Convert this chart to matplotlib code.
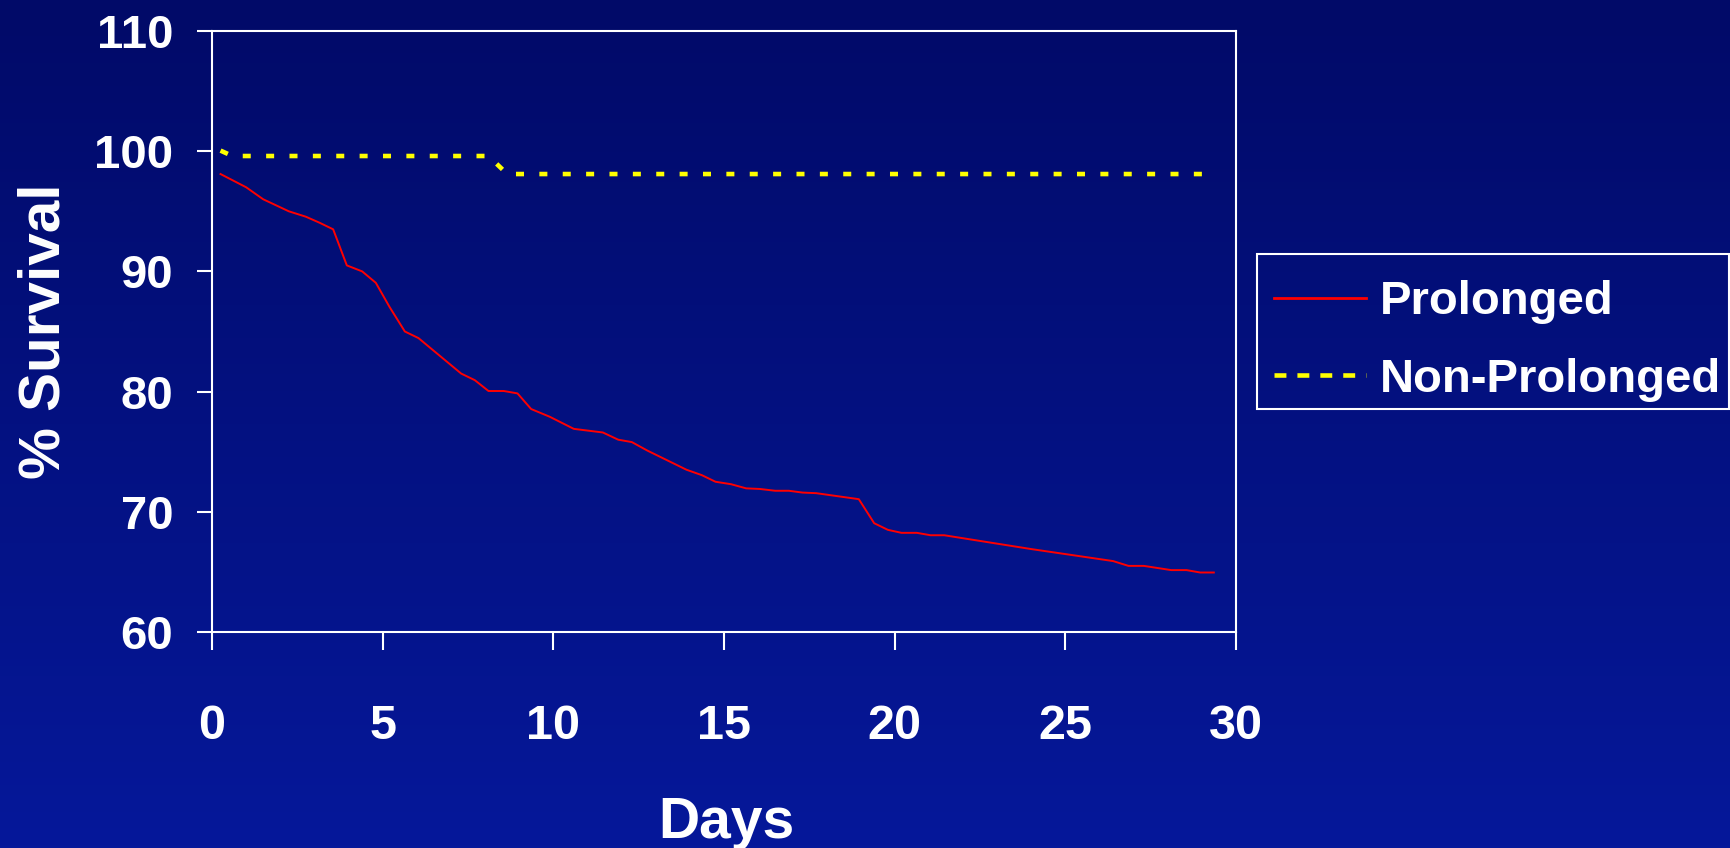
import numpy as np
import matplotlib
matplotlib.use("Agg")
import matplotlib.pyplot as plt
from matplotlib.colors import LinearSegmentedColormap
from matplotlib.lines import Line2D
from matplotlib.patches import Rectangle

# Kaplan-Meier style survival curves
days_prolonged = [0.25, 1.0, 1.5, 2.25, 2.75, 3.15, 3.55, 3.95, 4.4, 4.8,
                  5.2, 5.65, 6.05, 7.3, 7.7, 8.1, 8.55, 8.95, 9.35, 9.9,
                  10.6, 11.45, 11.9, 12.3, 12.75, 13.9, 14.35, 14.75, 15.2, 15.65,
                  16.05, 16.5, 16.9, 17.3, 17.7, 18.95, 19.4, 19.8, 20.2, 20.65,
                  21.05, 21.45, 24.0, 26.4, 26.85, 27.3, 28.1, 28.55, 28.95, 29.35]
surv_prolonged = [98.1, 97.0, 96.0, 95.0, 94.55, 94.05, 93.5, 90.5, 90.0, 89.05,
                  87.05, 85.0, 84.45, 81.5, 80.95, 80.05, 80.05, 79.85, 78.55, 77.9,
                  76.9, 76.6, 76.0, 75.8, 75.1, 73.5, 73.05, 72.5, 72.3, 71.95,
                  71.9, 71.75, 71.75, 71.6, 71.55, 71.05, 69.05, 68.5, 68.25, 68.25,
                  68.05, 68.05, 66.9, 65.9, 65.5, 65.5, 65.15, 65.15, 64.95, 64.95]

days_nonprolonged = [0.25, 0.6, 8.1, 8.65, 29.35]
surv_nonprolonged = [100.05, 99.6, 99.6, 98.1, 98.1]

series_labels = ["Prolonged", "Non-Prolonged"]
x_ticks = [0, 5, 10, 15, 20, 25, 30]
y_ticks = [60, 70, 80, 90, 100, 110]

plt.rcParams["font.family"] = ["Liberation Sans", "DejaVu Sans"]
plt.rcParams["font.weight"] = "bold"

W, H = 1731, 848
fig = plt.figure(figsize=(W / 100, H / 100), dpi=100)

# background: vertical navy gradient
bg = fig.add_axes([0, 0, 1, 1], zorder=0)
cmap = LinearSegmentedColormap.from_list("slide", ["#010A68", "#06189A"])
bg.imshow(np.linspace(0, 1, 256).reshape(-1, 1), cmap=cmap, aspect="auto",
          extent=(0, 1, 0, 1), origin="upper")
bg.set_axis_off()

ax = fig.add_axes([212 / W, 1 - 632 / H, (1236 - 212) / W, (632 - 31) / H], zorder=1)
ax.patch.set_alpha(0)

ax.plot(days_prolonged, surv_prolonged, color="#FF0000", lw=1.4,
        solid_joinstyle="round")
ax.plot(days_nonprolonged, surv_nonprolonged, color="#FFFF00", lw=3.3,
        linestyle=(0, (1.75, 3.35)), dash_capstyle="butt")

ax.set_xlim(0, 30)
ax.set_ylim(60, 110)
ax.set_xticks(x_ticks)
ax.set_yticks(y_ticks)

for s in ax.spines.values():
    s.set_color("white")
    s.set_linewidth(1.5)

ax.tick_params(axis="y", colors="white", direction="out", length=10.8, width=1.5,
               pad=17, labelsize=34)
ax.tick_params(axis="x", colors="white", direction="out", length=13, width=1.5,
               pad=39, labelsize=35)

ax.set_xlabel("Days", fontsize=41, color="white", fontweight="bold")
ax.xaxis.label.set_va("center")
ax.xaxis.set_label_coords(0.502, -0.318)
ax.set_ylabel("% Survival", fontsize=42, color="white", fontweight="bold")
ax.yaxis.label.set_va("center")
ax.yaxis.set_label_coords(-0.164, 0.5)

# legend box drawn separately so the entries can sit a bit low in it, as on the slide
fig.add_artist(Rectangle((1257 / W, 1 - 409 / H), (1729 - 1257) / W, (409 - 254) / H,
                         transform=fig.transFigure, facecolor="none",
                         edgecolor="white", lw=1.5, zorder=2))
handles = [
    Line2D([], [], color="#FF0000", lw=2.0),
    Line2D([], [], color="#FFFF00", lw=3.3, linestyle=(0, (2.6, 2.4)),
           dash_capstyle="butt"),
]
leg = fig.legend(handles, series_labels, loc="center left",
                 bbox_to_anchor=(1257 / W, 1 - 341 / H), fontsize=34,
                 frameon=False, handlelength=1.95,
                 handletextpad=0.3, borderpad=0.35, labelspacing=0.7,
                 borderaxespad=0)
for t in leg.get_texts():
    t.set_color("white")

fig.savefig("out.png", dpi=100)
